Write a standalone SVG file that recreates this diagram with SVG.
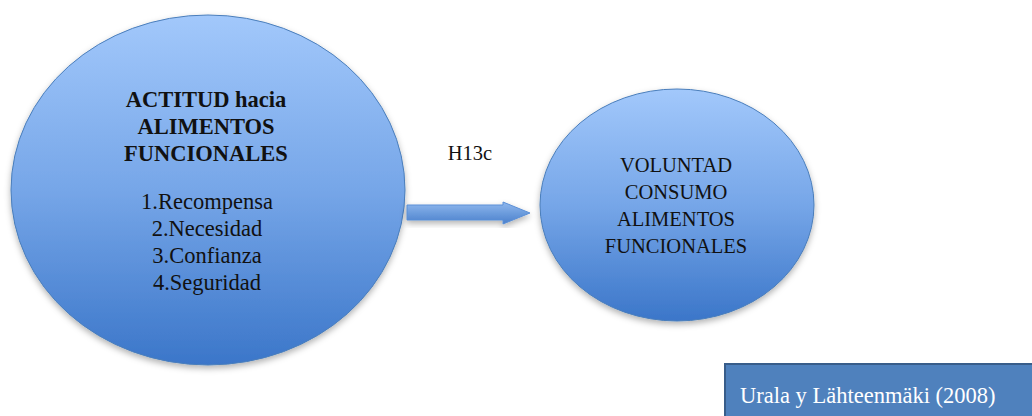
<svg xmlns="http://www.w3.org/2000/svg" width="1032" height="416" viewBox="0 0 1032 416">
  <defs>
    <linearGradient id="orb" x1="0" y1="0" x2="0" y2="1">
      <stop offset="0" stop-color="#a2c8fb"/>
      <stop offset="0.5" stop-color="#76a6e8"/>
      <stop offset="1" stop-color="#3b76c9"/>
    </linearGradient>
    <linearGradient id="shaft" x1="0" y1="0" x2="0" y2="1">
      <stop offset="0" stop-color="#8fb8ee"/>
      <stop offset="1" stop-color="#4a80cc"/>
    </linearGradient>
    <filter id="soft" x="-10%" y="-10%" width="120%" height="125%">
      <feDropShadow dx="0" dy="3" stdDeviation="3" flood-color="#000" flood-opacity="0.3"/>
    </filter>
    <style>
      .orb { fill: url(#orb); stroke: #4a7ebb; stroke-width: 1; filter: url(#soft); }
      .t { font-size: 20.5px; fill: #111; text-anchor: middle; }
      .big { font-size: 22.5px; }
      .b { font-weight: bold; }
      .note { font-size: 22.5px; fill: #ffffff; }
    </style>
  </defs>

  <rect width="1032" height="416" fill="#ffffff"/>

  <g font-family="'Liberation Serif', 'DejaVu Serif', serif">
    <g id="actitud">
      <ellipse class="orb" cx="208" cy="190" rx="197" ry="175"/>
      <text class="t big b" x="206" y="107">ACTITUD hacia</text>
      <text class="t big b" x="206" y="134">ALIMENTOS</text>
      <text class="t big b" x="206" y="161">FUNCIONALES</text>
      <text class="t big" x="207" y="209">1.Recompensa</text>
      <text class="t big" x="207" y="236">2.Necesidad</text>
      <text class="t big" x="207" y="263">3.Confianza</text>
      <text class="t big" x="207" y="290">4.Seguridad</text>
    </g>

    <g id="voluntad">
      <ellipse class="orb" cx="677" cy="205" rx="137" ry="116"/>
      <text class="t" x="676" y="172">VOLUNTAD</text>
      <text class="t" x="676" y="199">CONSUMO</text>
      <text class="t" x="676" y="226">ALIMENTOS</text>
      <text class="t" x="676" y="253">FUNCIONALES</text>
    </g>

    <g id="connectors">
      <path d="M407,205 L503,205 L503,202 L530,213 L503,224 L503,220 L407,220 Z" fill="url(#shaft)" stroke="#5b8fd6" stroke-width="1" filter="url(#soft)"/>
      <text class="t" x="470" y="160" font-size="21.5">H13c</text>
    </g>

    <g id="fuente">
      <rect x="725" y="364" width="310" height="55" fill="#4f81bd" stroke="#385d8a" stroke-width="2"/>
      <text class="note" x="740" y="403">Urala y Lähteenmäki (2008)</text>
    </g>
  </g>
</svg>
